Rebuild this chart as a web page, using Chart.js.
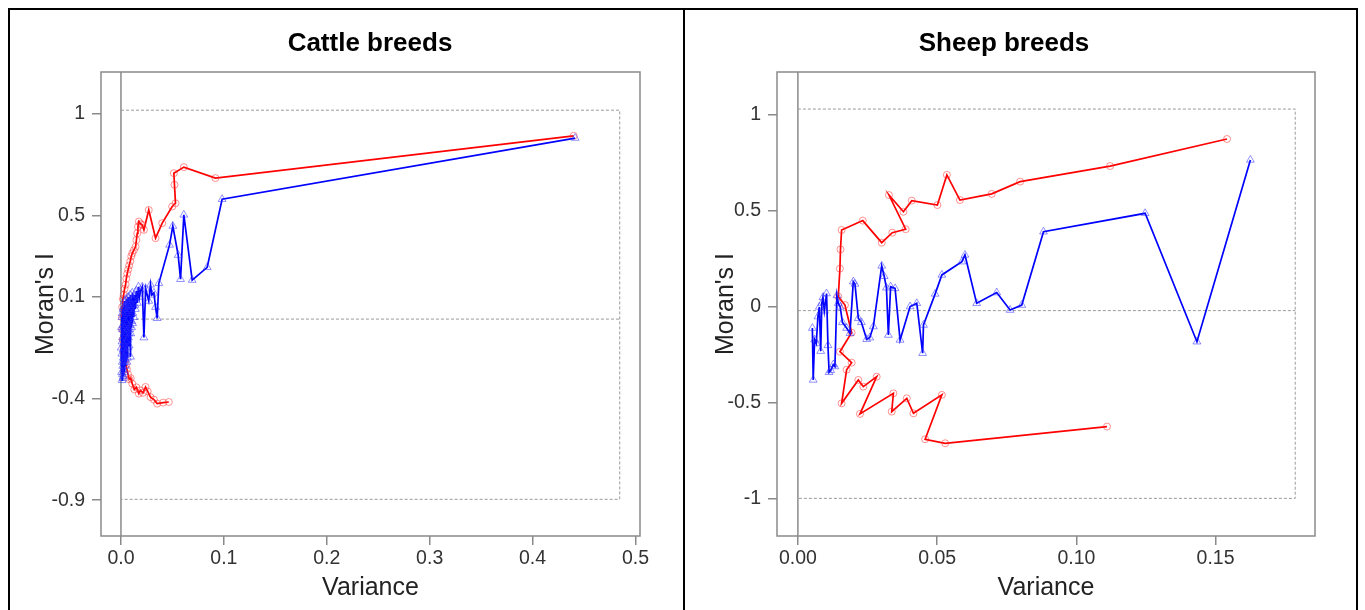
<!DOCTYPE html>
<html>
<head>
<meta charset="utf-8">
<script src="https://cdn.jsdelivr.net/npm/chart.js@4.4.0/dist/chart.umd.min.js"></script>
<style>
body { margin: 0; background: #fff; width: 1365px; height: 610px; overflow: hidden; position: relative; font-family: "Liberation Sans", Arial, sans-serif; }
canvas { position: absolute; top: 0; }
#cattle { left: 0; }
#sheep { left: 685px; }
.ttl { position: absolute; top: 26px; font-weight: bold; font-size: 26px; line-height: 32px; color: #000; transform: translateX(-50%); white-space: nowrap; }
.frame { position: absolute; background: #000; }
</style>
</head>
<body>
<canvas id="cattle" width="685" height="610"></canvas>
<canvas id="sheep" width="680" height="610"></canvas>
<div class="ttl" style="left:370px">Cattle breeds</div>
<div class="ttl" style="left:1004px">Sheep breeds</div>
<div class="frame" style="left:8px;top:8px;width:1350px;height:2px"></div>
<div class="frame" style="left:8px;top:8px;width:2px;height:602px"></div>
<div class="frame" style="left:683px;top:8px;width:2px;height:602px"></div>
<div class="frame" style="left:1356px;top:8px;width:2px;height:602px"></div>
<script>
// ---- cattle: Moran's I (blue) and bounds (red) ----
const cattleVar = [0.0003, 0.0005, 0.0006, 0.0008, 0.0009, 0.001, 0.0011, 0.0012, 0.0013, 0.0014,
  0.0015, 0.0016, 0.0017, 0.0018, 0.0019, 0.002, 0.0021, 0.0022, 0.0023, 0.0025,
  0.0026, 0.0027, 0.0029, 0.003, 0.0031, 0.0032, 0.0034, 0.0035, 0.0036, 0.0037,
  0.0039, 0.004, 0.0041, 0.0042, 0.0044, 0.0045, 0.0047, 0.0048, 0.0049, 0.005,
  0.0052, 0.0053, 0.0055, 0.0056, 0.0058, 0.006, 0.0062, 0.0063, 0.0065, 0.0066,
  0.0068, 0.007, 0.0072, 0.0073, 0.0075, 0.0076, 0.0078, 0.008, 0.0082, 0.0084,
  0.0086, 0.0088, 0.009, 0.0093, 0.0095, 0.0098, 0.01, 0.0103, 0.0105, 0.0108,
  0.011, 0.0113, 0.0115, 0.012, 0.0125, 0.013, 0.0135, 0.014, 0.015, 0.016,
  0.017, 0.018, 0.019, 0.0207, 0.0223, 0.024, 0.027, 0.0287, 0.030, 0.032,
  0.0336, 0.0352, 0.0368, 0.0472, 0.0504, 0.0556, 0.0579, 0.0611, 0.0692, 0.0838,
  0.0983, 0.4414];
const cattleMoran = [-0.15, -0.05, -0.27, -0.18, 0.00, -0.12, -0.31, 0.02, -0.22, -0.28,
  -0.06, -0.10, -0.24, -0.30, 0.04, -0.04, -0.16, -0.20, -0.29, 0.05,
  -0.13, -0.26, 0.01, -0.08, -0.19, -0.22, -0.27, 0.08, -0.05, -0.15,
  0.03, -0.02, -0.21, -0.24, -0.09, 0.05, -0.17, -0.12, 0.06, 0.09,
  -0.07, -0.18, 0.02, -0.03, -0.22, 0.07, -0.11, -0.20, 0.04, -0.06,
  -0.15, 0.10, -0.01, -0.10, 0.06, 0.03, -0.08, -0.14, 0.05, 0.08,
  -0.06, -0.04, 0.11, -0.195, -0.08, 0.04, 0.06, -0.05, -0.02, 0.09,
  0.12, -0.03, 0.02, 0.09, 0.00, 0.11, 0.06, 0.04, 0.13, 0.07,
  0.15, 0.10, 0.13, 0.15, -0.10, 0.14, 0.08, 0.16, 0.11, 0.12,
  0.05, -0.005, 0.167, 0.356, 0.449, 0.306, 0.187, 0.504, 0.183, 0.246,
  0.581, 0.882];
const cattleBoundVar = [0.0465, 0.041, 0.0352, 0.032, 0.0287, 0.026, 0.0239, 0.0215, 0.019, 0.0174,
  0.015, 0.013, 0.011, 0.0095, 0.008, 0.0068, 0.0058, 0.0048, 0.004, 0.0032,
  0.0025, 0.0018, 0.0013, 0.001, 0.0012, 0.0018, 0.0026, 0.0035, 0.0045, 0.0052,
  0.0061, 0.007, 0.008, 0.009, 0.01, 0.011, 0.0125, 0.0142, 0.015, 0.0158,
  0.0165, 0.0174, 0.019, 0.0207, 0.0223, 0.027, 0.0336, 0.0401, 0.0498, 0.053,
  0.052, 0.0514, 0.0611, 0.0918, 0.44];
const cattleBound = [-0.417, -0.42, -0.425, -0.405, -0.393, -0.365, -0.343, -0.372, -0.36, -0.376,
  -0.345, -0.355, -0.327, -0.30, -0.305, -0.28, -0.255, -0.235, -0.21, -0.18,
  -0.15, -0.11, -0.06, 0.0, 0.05, 0.09, 0.11, 0.14, 0.16, 0.19,
  0.215, 0.235, 0.255, 0.275, 0.30, 0.315, 0.33, 0.347, 0.38, 0.413,
  0.445, 0.471, 0.46, 0.454, 0.43, 0.528, 0.389, 0.463, 0.545, 0.561,
  0.652, 0.709, 0.739, 0.685, 0.893];
const cattleXTicks = [0, 0.1, 0.2, 0.3, 0.4, 0.5];
const cattleYTicks = [-0.9, -0.4, 0.1, 0.5, 1];
const cattleXRange = [-0.0194, 0.5044];
const cattleYRange = [-1.0765, 1.207];
const cattleFrame = [0.4847, 1.019, -0.896, -0.009]; // xmax, top, bottom, middle

// ---- sheep ----
const sheepVar = [0.0052, 0.0055, 0.006, 0.0066, 0.0072, 0.0077, 0.0082, 0.0086, 0.009, 0.0095,
  0.0103, 0.0108, 0.0112, 0.0118, 0.0127, 0.0133, 0.014, 0.0145, 0.0152, 0.016,
  0.0175, 0.0187, 0.0199, 0.0205, 0.0217, 0.0228, 0.0247, 0.0258, 0.0271, 0.0301,
  0.031, 0.0318, 0.0325, 0.0333, 0.0349, 0.0367, 0.0403, 0.0427, 0.0448, 0.0451,
  0.0493, 0.0517, 0.0589, 0.06, 0.0642, 0.0714, 0.0762, 0.0804, 0.0882, 0.1247,
  0.1433, 0.1625];
const sheepMoran = [-0.11, -0.38, -0.17, -0.19, -0.05, 0.0, -0.23, 0.02, 0.05, -0.02,
  0.07, -0.2, -0.34, -0.33, -0.30, -0.31, 0.06, 0.02, 0.0, -0.08,
  -0.11, -0.137, 0.132, 0.12, -0.059, -0.08, -0.168, -0.16, -0.102, 0.214,
  0.16, 0.1, -0.146, 0.106, 0.097, -0.172, 0.002, 0.019, -0.241, -0.094,
  0.068, 0.167, 0.236, 0.271, 0.019, 0.075, -0.016, 0.01, 0.392, 0.488,
  -0.181, 0.766];
const sheepBoundVar = [0.1541, 0.1121, 0.0798, 0.0696, 0.0582, 0.0535, 0.0501, 0.0409, 0.0379, 0.0327,
  0.0387, 0.0339, 0.0301, 0.0233, 0.0157, 0.0153, 0.0151, 0.0145, 0.0169,
  0.0193, 0.0151, 0.0193, 0.0175, 0.0157, 0.0217, 0.0235, 0.0283, 0.0223, 0.0343,
  0.0337, 0.0391, 0.0415, 0.0517, 0.0457, 0.0529, 0.111];
const sheepBound = [0.875, 0.734, 0.653, 0.589, 0.557, 0.688, 0.531, 0.554, 0.496, 0.583,
  0.405, 0.387, 0.335, 0.45, 0.401, 0.30, 0.2, 0.054, 0.01,
  -0.134, -0.233, -0.29, -0.327, -0.502, -0.38, -0.415, -0.363, -0.557, -0.45,
  -0.545, -0.476, -0.554, -0.458, -0.689, -0.71, -0.623];
const sheepXTicks = [0, 0.05, 0.1, 0.15];
const sheepYTicks = [-1, -0.5, 0, 0.5, 1];
const sheepXRange = [-0.0075, 0.1857];
const sheepYRange = [-1.193, 1.224];
const sheepFrame = [0.1786, 1.031, -0.997, -0.019];

Chart.defaults.font.family = '"Liberation Sans", Arial, sans-serif';

const boxPlugin = {
  id: 'rbox',
  beforeDatasetsDraw(chart) {
    const { ctx, chartArea: a, scales: { x } } = chart;
    ctx.save();
    ctx.strokeStyle = '#8a8a8a';
    ctx.lineWidth = 1.5;
    const x0 = x.getPixelForValue(0);
    ctx.beginPath();
    ctx.moveTo(x0, a.top);
    ctx.lineTo(x0, a.bottom);
    ctx.stroke();
    ctx.strokeRect(a.left, a.top, a.right - a.left, a.bottom - a.top);
    ctx.restore();
  }
};

function pts(xs, ys) {
  return xs.map((v, i) => ({ x: v, y: ys[i] }));
}

function makeChart(id, o) {
  const [fx, ft, fb, fm] = o.frame;
  new Chart(document.getElementById(id), {
    type: 'scatter',
    data: {
      datasets: [
        {
          data: pts(o.mVar, o.moran),
          showLine: true, borderColor: '#0000ff', borderWidth: 1.7,
          pointStyle: 'triangle', pointRadius: 4.5, pointBorderWidth: 1,
          pointBorderColor: 'rgba(40,40,255,0.5)', pointBackgroundColor: 'rgba(0,0,0,0)'
        },
        {
          data: pts(o.bVar, o.bound),
          showLine: true, borderColor: '#ff0000', borderWidth: 1.7,
          pointStyle: 'circle', pointRadius: 3.5, pointBorderWidth: 1,
          pointBorderColor: 'rgba(255,40,40,0.5)', pointBackgroundColor: 'rgba(0,0,0,0)'
        },
        {
          data: [{ x: 0, y: ft }, { x: fx, y: ft }, { x: fx, y: fb }, { x: 0, y: fb }],
          showLine: true, borderColor: '#9a9a9a', borderWidth: 1, borderDash: [3, 2], pointRadius: 0
        },
        {
          data: [{ x: 0, y: fm }, { x: fx, y: fm }],
          showLine: true, borderColor: '#9a9a9a', borderWidth: 1, borderDash: [3, 2], pointRadius: 0
        }
      ]
    },
    options: {
      responsive: false,
      animation: false,
      devicePixelRatio: 1,
      layout: { padding: { left: 0, top: 72, right: o.padRight, bottom: 7 } },
      plugins: { legend: { display: false }, tooltip: { enabled: false } },
      scales: {
        x: {
          type: 'linear', min: o.xRange[0], max: o.xRange[1],
          afterBuildTicks: s => { s.ticks = o.xTicks.map(v => ({ value: v })); },
          afterFit: s => { s.height = 67; },
          grid: { drawOnChartArea: false, tickLength: 9, color: '#8a8a8a', lineWidth: 1.5 },
          border: { display: false },
          ticks: { padding: 2, color: '#333', font: { size: 19.5 }, autoSkip: false, maxRotation: 0,
            callback: v => v.toFixed(o.xDigits) },
          title: { display: true, text: 'Variance', font: { size: 25 }, color: '#222', padding: 0 }
        },
        y: {
          type: 'linear', min: o.yRange[0], max: o.yRange[1],
          afterBuildTicks: s => { s.ticks = o.yTicks.map(v => ({ value: v })); },
          afterFit: s => { s.width = o.yWidth; },
          grid: { drawOnChartArea: false, tickLength: 9, color: '#8a8a8a', lineWidth: 1.5 },
          border: { display: false },
          ticks: { padding: 7, color: '#333', font: { size: 19.5 }, autoSkip: false,
            callback: v => String(v) },
          title: { display: true, text: "Moran's I", font: { size: 25 }, color: '#222', padding: { top: o.yTitlePad, bottom: 0 } }
        }
      }
    },
    plugins: [boxPlugin]
  });
}

makeChart('cattle', {
  mVar: cattleVar, moran: cattleMoran, bVar: cattleBoundVar, bound: cattleBound,
  xTicks: cattleXTicks, yTicks: cattleYTicks, xRange: cattleXRange, yRange: cattleYRange,
  frame: cattleFrame, xDigits: 1, padRight: 45, yWidth: 101, yTitlePad: 31
});
makeChart('sheep', {
  mVar: sheepVar, moran: sheepMoran, bVar: sheepBoundVar, bound: sheepBound,
  xTicks: sheepXTicks, yTicks: sheepYTicks, xRange: sheepXRange, yRange: sheepYRange,
  frame: sheepFrame, xDigits: 2, padRight: 50, yWidth: 92, yTitlePad: 26
});
</script>
</body>
</html>
